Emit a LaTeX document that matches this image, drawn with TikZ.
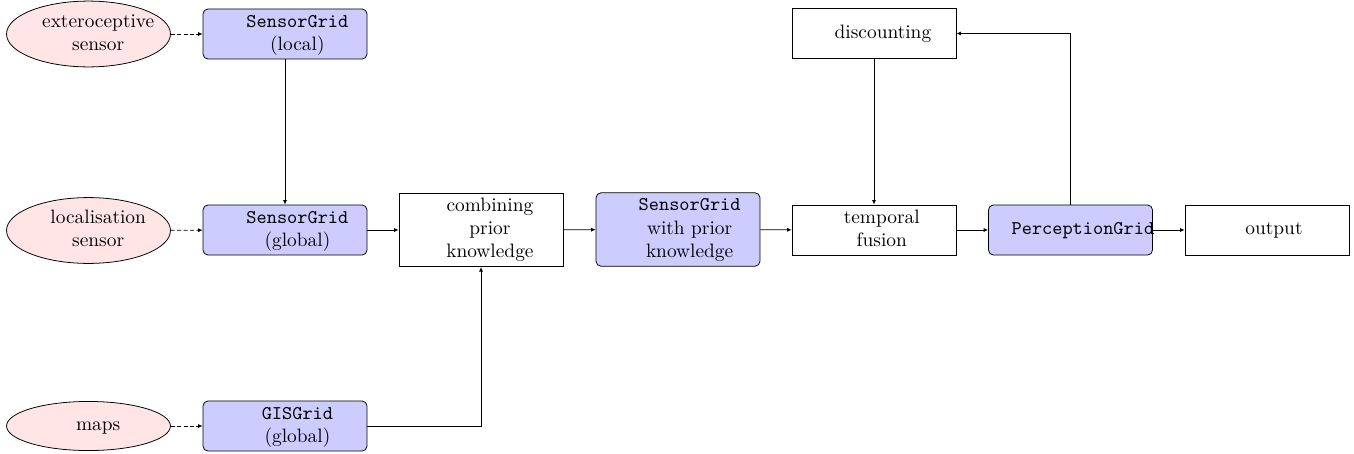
\documentclass[tikz,border=0pt]{standalone}
\usetikzlibrary{arrows.meta,shapes.geometric}
\newcommand\nodelbl[2][5pt]{\kern#1\begin{tabular}{@{}c@{}}#2\end{tabular}\kern-#1}
\tikzset{
  srcnode/.style={ellipse, draw, fill=red!10, minimum width=84.5pt, minimum height=25.3pt, inner sep=0pt},
  gridnode/.style={rectangle, rounded corners=2.5pt, draw, fill=blue!20, minimum width=84.5pt, minimum height=25.8pt, inner xsep=0pt, inner ysep=0.9pt},
  procnode/.style={rectangle, draw, fill=white, minimum width=84.5pt, minimum height=25.8pt, inner xsep=0pt, inner ysep=0.9pt},
  arr/.style={-{Latex[length=2.3pt,width=2.1pt]}, line width=0.45pt},
  dasharr/.style={arr, dash pattern=on 2pt off 1.3pt},
}
\begin{document}
\begin{tikzpicture}[x=0.5155pt, y=-0.5155pt]
\useasboundingbox (0,0) rectangle (1354,453);
% sources
\node[srcnode] (ext) at (88.5,34) {\nodelbl{exteroceptive\\sensor}};
\node[srcnode] (loc) at (88.5,230.5) {\nodelbl{localisation\\sensor}};
\node[srcnode] (maps) at (88.5,426) {\nodelbl{maps}};
% grids column
\node[gridnode] (sgl) at (285,34) {\nodelbl[6.4pt]{\texttt{SensorGrid}\\(local)}};
\node[gridnode] (sgg) at (285,230) {\nodelbl[6.4pt]{\texttt{SensorGrid}\\(global)}};
\node[gridnode] (gis) at (285,426) {\nodelbl[6.4pt]{\texttt{GISGrid}\\(global)}};
% processing chain
\node[procnode] (comb) at (481,230) {\nodelbl[4.6pt]{combining\\prior\\knowledge}};
\node[gridnode] (sgp) at (678,229.5) {\nodelbl[6pt]{\texttt{SensorGrid}\\with prior\\knowledge}};
\node[procnode] (tf) at (874,230) {\nodelbl[4pt]{temporal\\fusion}};
\node[procnode] (disc) at (874,33.5) {\nodelbl[4.6pt]{discounting}};
\node[gridnode] (pg) at (1070.5,230) {\nodelbl[6.4pt]{\texttt{PerceptionGrid}}};
\node[procnode] (out) at (1267,230) {\nodelbl[3.6pt]{output}};
% connectors
\draw[dasharr] (ext) -- (sgl);
\draw[dasharr] (loc) -- (sgg);
\draw[dasharr] (maps) -- (gis);
\draw[arr] (sgl) -- (sgg);
\draw[arr] (sgg) -- (comb);
\draw[arr] (gis) -| (comb);
\draw[arr] (comb) -- (sgp);
\draw[arr] (sgp) -- (tf);
\draw[arr] (disc) -- (tf);
\draw[arr] (tf) -- (pg);
\draw[arr] (pg) -- (out);
\draw[arr] (pg) |- (disc);
\end{tikzpicture}
\end{document}
